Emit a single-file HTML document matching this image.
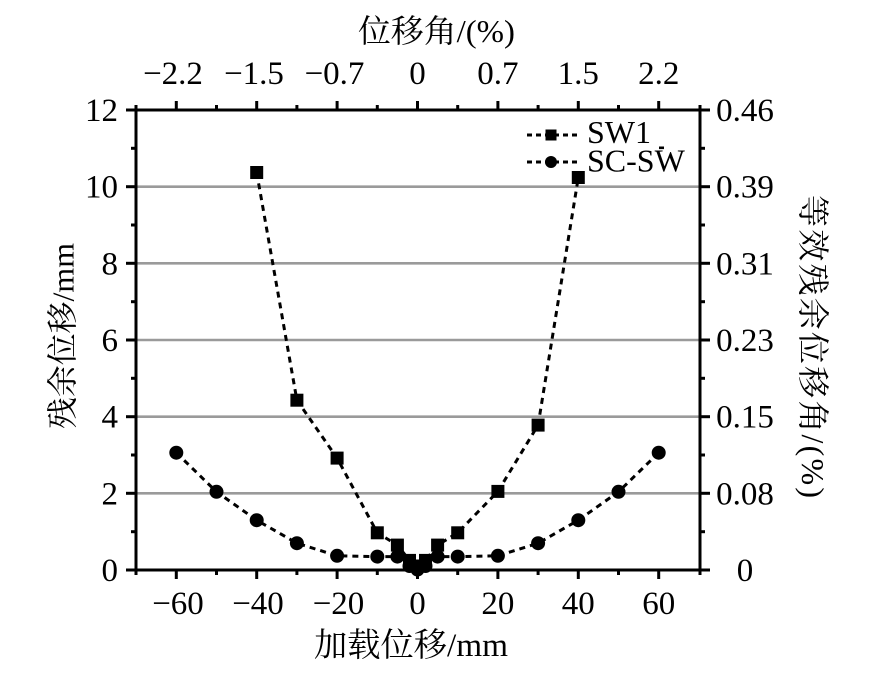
<!DOCTYPE html>
<html>
<head>
<meta charset="utf-8">
<style>
html,body{margin:0;padding:0;background:#fff;}
svg{display:block;}
text{font-family:"Liberation Serif","Noto Serif CJK SC",serif;fill:#000;}
</style>
</head>
<body>
<svg width="869" height="687" viewBox="0 0 869 687" xmlns="http://www.w3.org/2000/svg">
<rect width="869" height="687" fill="#fff"/>
<!-- gridlines -->
<g stroke="#9a9a9a" stroke-width="2.6">
<line x1="136" y1="493.3" x2="700" y2="493.3"/>
<line x1="136" y1="416.7" x2="700" y2="416.7"/>
<line x1="136" y1="340" x2="700" y2="340"/>
<line x1="136" y1="263.3" x2="700" y2="263.3"/>
<line x1="136" y1="186.7" x2="700" y2="186.7"/>
</g>
<!-- frame -->
<rect x="136" y="110" width="564" height="460" fill="none" stroke="#000" stroke-width="3"/>
<!-- ticks -->
<g stroke="#000" stroke-width="3">
<line x1="176.3" y1="570" x2="176.3" y2="579"/><line x1="256.7" y1="570" x2="256.7" y2="579"/><line x1="337.1" y1="570" x2="337.1" y2="579"/><line x1="417.5" y1="570" x2="417.5" y2="579"/><line x1="497.9" y1="570" x2="497.9" y2="579"/><line x1="578.3" y1="570" x2="578.3" y2="579"/><line x1="658.7" y1="570" x2="658.7" y2="579"/>
<line x1="136" y1="570" x2="136" y2="575"/><line x1="216.5" y1="570" x2="216.5" y2="575"/><line x1="296.9" y1="570" x2="296.9" y2="575"/><line x1="377.3" y1="570" x2="377.3" y2="575"/><line x1="457.7" y1="570" x2="457.7" y2="575"/><line x1="538.1" y1="570" x2="538.1" y2="575"/><line x1="618.5" y1="570" x2="618.5" y2="575"/><line x1="700" y1="570" x2="700" y2="575"/>
<line x1="176.3" y1="110" x2="176.3" y2="101"/><line x1="256.7" y1="110" x2="256.7" y2="101"/><line x1="337.1" y1="110" x2="337.1" y2="101"/><line x1="417.5" y1="110" x2="417.5" y2="101"/><line x1="497.9" y1="110" x2="497.9" y2="101"/><line x1="578.3" y1="110" x2="578.3" y2="101"/><line x1="658.7" y1="110" x2="658.7" y2="101"/>
<line x1="136" y1="110" x2="136" y2="105"/><line x1="216.5" y1="110" x2="216.5" y2="105"/><line x1="296.9" y1="110" x2="296.9" y2="105"/><line x1="377.3" y1="110" x2="377.3" y2="105"/><line x1="457.7" y1="110" x2="457.7" y2="105"/><line x1="538.1" y1="110" x2="538.1" y2="105"/><line x1="618.5" y1="110" x2="618.5" y2="105"/><line x1="700" y1="110" x2="700" y2="105"/>
<line x1="136" y1="570" x2="126" y2="570"/><line x1="136" y1="493.3" x2="126" y2="493.3"/><line x1="136" y1="416.7" x2="126" y2="416.7"/><line x1="136" y1="340" x2="126" y2="340"/><line x1="136" y1="263.3" x2="126" y2="263.3"/><line x1="136" y1="186.7" x2="126" y2="186.7"/><line x1="136" y1="110" x2="126" y2="110"/>
<line x1="136" y1="531.7" x2="131" y2="531.7"/><line x1="136" y1="455" x2="131" y2="455"/><line x1="136" y1="378.3" x2="131" y2="378.3"/><line x1="136" y1="301.7" x2="131" y2="301.7"/><line x1="136" y1="225" x2="131" y2="225"/><line x1="136" y1="148.3" x2="131" y2="148.3"/>
<line x1="700" y1="570" x2="710" y2="570"/><line x1="700" y1="493.3" x2="710" y2="493.3"/><line x1="700" y1="416.7" x2="710" y2="416.7"/><line x1="700" y1="340" x2="710" y2="340"/><line x1="700" y1="263.3" x2="710" y2="263.3"/><line x1="700" y1="186.7" x2="710" y2="186.7"/><line x1="700" y1="110" x2="710" y2="110"/>
<line x1="700" y1="531.7" x2="705" y2="531.7"/><line x1="700" y1="455" x2="705" y2="455"/><line x1="700" y1="378.3" x2="705" y2="378.3"/><line x1="700" y1="301.7" x2="705" y2="301.7"/><line x1="700" y1="225" x2="705" y2="225"/><line x1="700" y1="148.3" x2="705" y2="148.3"/>
</g>

<!-- left tick labels -->
<g font-size="33" text-anchor="end">
<text x="118" y="581">0</text>
<text x="118" y="504.3">2</text>
<text x="118" y="427.7">4</text>
<text x="118" y="351">6</text>
<text x="118" y="274.3">8</text>
<text x="118" y="197.7">10</text>
<text x="118" y="121">12</text>
</g>
<!-- right tick labels -->
<g font-size="33" text-anchor="middle">
<text x="745" y="581">0</text>
<text x="745" y="504.3">0.08</text>
<text x="745" y="427.7">0.15</text>
<text x="745" y="351">0.23</text>
<text x="745" y="274.3">0.31</text>
<text x="745" y="197.7">0.39</text>
<text x="745" y="121">0.46</text>
</g>
<!-- bottom tick labels -->
<g font-size="33" text-anchor="middle">
<text x="178" y="614">−60</text>
<text x="258" y="614">−40</text>
<text x="338.5" y="614">−20</text>
<text x="417.5" y="614">0</text>
<text x="497.9" y="614">20</text>
<text x="578.3" y="614">40</text>
<text x="658.7" y="614">60</text>
</g>
<!-- top tick labels -->
<g font-size="33" text-anchor="middle">
<text x="173" y="84">−2.2</text>
<text x="254" y="84">−1.5</text>
<text x="334.5" y="84">−0.7</text>
<text x="417.5" y="84">0</text>
<text x="497.9" y="84">0.7</text>
<text x="578.3" y="84">1.5</text>
<text x="658.7" y="84">2.2</text>
</g>

<!-- axis titles -->
<text x="358" y="42" font-size="32" textLength="157" lengthAdjust="spacingAndGlyphs">位移角/(%)</text>
<text x="314" y="656" font-size="33" textLength="194" lengthAdjust="spacingAndGlyphs">加载位移/mm</text>
<text transform="translate(63,336) rotate(-90)" font-size="31" text-anchor="middle" dominant-baseline="central" textLength="186" lengthAdjust="spacingAndGlyphs">残余位移/mm</text>
<text transform="translate(813,346.5) rotate(90)" font-size="32" text-anchor="middle" dominant-baseline="central" textLength="303" lengthAdjust="spacing">等效残余位移角/(%)</text>

<!-- series lines -->
<g fill="none" stroke="#000" stroke-width="3" stroke-dasharray="6 5">
<polyline points="256.7,172.5 296.9,400.2 337.1,458.1 377.3,532.8 397.4,545.1 409.5,560.4 417.5,566 425.5,560.4 437.6,545.1 457.7,532.8 497.9,491.4 538.1,425.1 578.3,177.5"/>
<polyline points="176.3,452.7 216.5,491.8 256.7,520.2 296.9,543.2 337.1,555.8 377.3,556.6 397.4,556.6 409.5,566 417.5,569.5 425.5,566 437.6,556.6 457.7,556.6 497.9,555.8 538.1,543.2 578.3,520.2 618.5,491.8 658.7,452.7"/>
</g>
<!-- SC-SW markers -->
<g fill="#000">
<circle cx="176.3" cy="452.7" r="7"/><circle cx="216.5" cy="491.8" r="7"/><circle cx="256.7" cy="520.2" r="7"/><circle cx="296.9" cy="543.2" r="7"/><circle cx="337.1" cy="555.8" r="7"/><circle cx="377.3" cy="556.6" r="7"/><circle cx="397.4" cy="556.6" r="7"/><circle cx="409.5" cy="566" r="7"/><circle cx="417.5" cy="569.5" r="7"/><circle cx="425.5" cy="566" r="7"/><circle cx="437.6" cy="556.6" r="7"/><circle cx="457.7" cy="556.6" r="7"/><circle cx="497.9" cy="555.8" r="7"/><circle cx="538.1" cy="543.2" r="7"/><circle cx="578.3" cy="520.2" r="7"/><circle cx="618.5" cy="491.8" r="7"/><circle cx="658.7" cy="452.7" r="7"/>
</g>
<!-- SW1 markers -->
<g fill="#000">
<rect x="250.2" y="166" width="13" height="13"/><rect x="290.4" y="393.7" width="13" height="13"/><rect x="330.6" y="451.6" width="13" height="13"/><rect x="370.8" y="526.3" width="13" height="13"/><rect x="390.9" y="538.6" width="13" height="13"/><rect x="403" y="553.9" width="13" height="13"/><rect x="411" y="559.5" width="13" height="13"/><rect x="419" y="553.9" width="13" height="13"/><rect x="431.1" y="538.6" width="13" height="13"/><rect x="451.2" y="526.3" width="13" height="13"/><rect x="491.4" y="484.9" width="13" height="13"/><rect x="531.6" y="418.6" width="13" height="13"/><rect x="571.8" y="171" width="13" height="13"/>
</g>

<!-- legend -->
<g stroke="#000" stroke-width="3" stroke-dasharray="5 4" fill="none">
<line x1="527" y1="135" x2="577" y2="135"/>
<line x1="527" y1="162" x2="577" y2="162"/>
</g>
<rect x="545.5" y="129.5" width="11" height="11" fill="#000"/>
<circle cx="551" cy="162" r="6" fill="#000"/>
<rect x="659" y="146.5" width="5" height="2.6" fill="#000"/>
<g font-size="32">
<text x="587" y="143">SW1</text>
<text x="587" y="171.5">SC-SW</text>
</g>
</svg>
</body>
</html>
